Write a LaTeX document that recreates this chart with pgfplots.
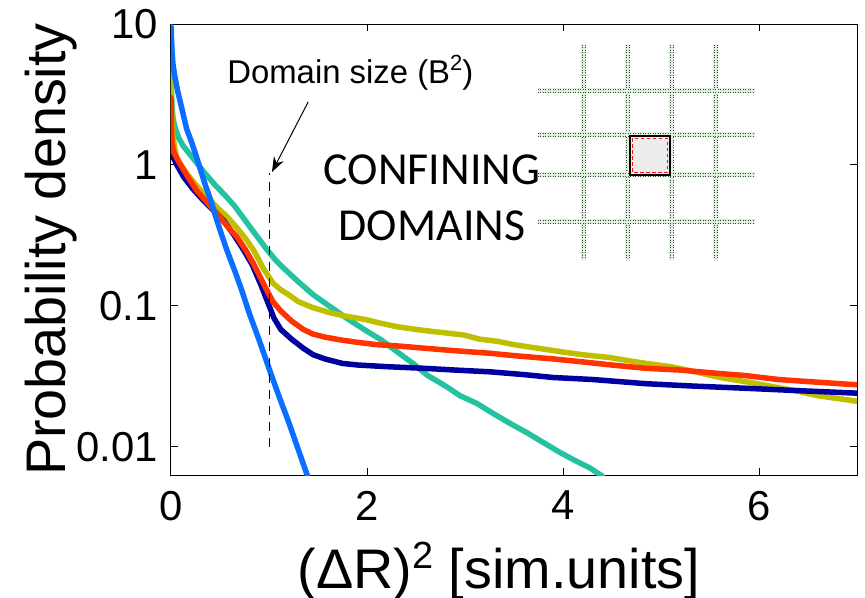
\documentclass[border=0pt]{standalone}
\usepackage{fontspec}
\setmainfont{Liberation Sans}
\newfontfamily\calibri{Carlito}
\usepackage{pgfplots}
\pgfplotsset{compat=1.18}
\usetikzlibrary{arrows.meta}

\definecolor{cLight}{RGB}{10,110,255}
\definecolor{cTeal}{RGB}{35,195,160}
\definecolor{cOlive}{RGB}{192,190,0}
\definecolor{cRed}{RGB}{255,50,0}
\definecolor{cNavy}{RGB}{0,0,160}
\definecolor{gridgreen}{RGB}{45,75,45}
\definecolor{gridhalo}{RGB}{225,240,222}

\begin{document}
\begin{tikzpicture}
\begin{axis}[
  at={(0,0)}, anchor=south west,
  scale only axis, width=686bp, height=451bp,
  xmin=0, xmax=7, ymode=log, ymin=0.0063, ymax=10,
  xtick={0,2,4,6}, xticklabels={0,2,4,6},
  ytick={0.01,0.1,1,10}, yticklabels={0.01,0.1,1,10},
  yminorticks=false,
  tick align=inside, major tick length=7bp,
  axis line style={black, line width=1bp},
  every tick/.style={black, line width=1bp},
  /pgf/number format/assume math mode=true,
  ticklabel style={font=\fontsize{42}{42}\selectfont, inner sep=0pt},
  xticklabel style={yshift=-16bp},
  yticklabel style={xshift=-13bp},
  xlabel={(ΔR)\raisebox{20bp}{\fontsize{38}{38}\selectfont 2} [sim.units]},
  xlabel style={font=\fontsize{56}{56}\selectfont, at={(axis description cs:0.478,-0.2506)}, anchor=base},
  ylabel={Probability density},
  ylabel style={font=\fontsize{56}{56}\selectfont, at={(axis description cs:-0.1545,0.5)}, anchor=base},
  every axis plot/.append style={line width=5.5bp, line join=round, line cap=round},
]

% (Delta R)^2 distributions for the different domain sizes
\addplot[cTeal] coordinates {
(0,5.6) (0.002,4.5) (0.005,3.3) (0.01,2.6) (0.02,2.15) (0.04,1.85) (0.08,1.55)
(0.12,1.38) (0.16,1.27) (0.25,1.06) (0.33,0.90) (0.45,0.72) (0.55,0.61)
(0.65,0.51) (0.75,0.41) (0.85,0.33) (0.98,0.25) (1.07,0.21) (1.15,0.185)
(1.30,0.148) (1.45,0.12) (1.63,0.098) (1.80,0.081) (1.97,0.068) (2.15,0.057)
(2.31,0.047) (2.47,0.039) (2.62,0.032) (2.80,0.027) (2.95,0.023) (3.12,0.0203)
(3.30,0.017) (3.47,0.0145) (3.63,0.0126) (3.80,0.0107) (3.97,0.0091)
(4.12,0.0080) (4.27,0.0071) (4.40,0.0062)
};

\addplot[cOlive] coordinates {
(0,4.7) (0.003,3.5) (0.006,2.6) (0.01,2.0) (0.02,1.6) (0.04,1.3) (0.06,1.12)
(0.1,1.0) (0.17,0.85) (0.27,0.70) (0.37,0.59) (0.47,0.50) (0.57,0.43)
(0.67,0.36) (0.76,0.30) (0.84,0.25) (0.90,0.21) (0.94,0.185) (1.0,0.16)
(1.04,0.145) (1.12,0.13) (1.2,0.12) (1.30,0.107) (1.45,0.097) (1.63,0.089)
(1.8,0.084) (1.98,0.080) (2.15,0.075) (2.31,0.071) (2.5,0.068) (2.65,0.066)
(2.82,0.064) (2.99,0.062) (3.15,0.058) (3.33,0.056) (3.5,0.053) (3.66,0.051)
(3.83,0.049) (4.0,0.047) (4.2,0.045) (4.47,0.043) (4.65,0.041) (4.85,0.039)
(5.1,0.037) (5.35,0.034) (5.6,0.031) (5.86,0.029) (6.1,0.027) (6.37,0.025)
(6.6,0.023) (6.8,0.022) (7.0,0.021)
};

\addplot[cNavy] coordinates {
(0,1.35) (0.005,1.25) (0.02,1.14) (0.06,1.0) (0.13,0.82) (0.22,0.68)
(0.33,0.56) (0.44,0.47) (0.54,0.40) (0.64,0.32) (0.74,0.25) (0.83,0.195)
(0.91,0.145) (0.99,0.105) (1.05,0.082) (1.12,0.068) (1.23,0.058) (1.35,0.050)
(1.45,0.045) (1.57,0.042) (1.75,0.039) (1.91,0.038) (2.2,0.037) (2.59,0.036)
(2.9,0.035) (3.26,0.034) (3.6,0.0325) (3.9,0.031) (4.3,0.030) (4.85,0.028)
(5.3,0.027) (5.86,0.026) (6.4,0.025) (7.0,0.024)
};

\addplot[cRed] coordinates {
(0,3.0) (0.003,2.2) (0.006,1.7) (0.01,1.45) (0.02,1.3) (0.03,1.22) (0.08,1.05)
(0.15,0.87) (0.26,0.66) (0.37,0.54) (0.47,0.45) (0.57,0.37) (0.67,0.31)
(0.76,0.25) (0.84,0.20) (0.91,0.16) (0.98,0.128) (1.04,0.107) (1.12,0.092)
(1.23,0.078) (1.35,0.068) (1.45,0.063) (1.57,0.060) (1.75,0.057) (1.91,0.055)
(2.1,0.053) (2.3,0.052) (2.59,0.050) (2.9,0.048) (3.26,0.046) (3.55,0.044)
(3.90,0.042) (4.2,0.040) (4.5,0.038) (4.85,0.036) (5.2,0.035) (5.5,0.0335)
(5.86,0.032) (6.2,0.030) (6.5,0.029) (7.0,0.0275)
};

\addplot[cLight] coordinates {
(0,9.6) (0.005,8) (0.01,6.5) (0.02,5.2) (0.04,4.2) (0.07,3.3) (0.10,2.7)
(0.13,2.2) (0.16,1.8) (0.21,1.45) (0.25,1.2) (0.30,0.93) (0.35,0.72)
(0.41,0.55) (0.46,0.42) (0.51,0.33) (0.56,0.26) (0.61,0.21) (0.66,0.17)
(0.72,0.13) (0.80,0.088) (0.90,0.057) (1.00,0.036) (1.10,0.023) (1.20,0.015)
(1.30,0.0095) (1.40,0.006)
};

% domain size marker
\draw[black, line width=1bp, dash pattern=on 9bp off 7bp] (axis cs:1,0.01) -- (axis cs:1,0.88);
\draw[black, line width=1bp, -{Stealth[length=15bp, width=11bp]}] (axis cs:1.40,2.8) -- (axis cs:1.03,0.89);
\node[anchor=base, inner sep=0pt, font=\fontsize{33}{33}\selectfont] at (axis cs:1.83,3.8)
  {Domain size (B\raisebox{13bp}{\fontsize{22}{22}\selectfont 2})};
\end{axis}

% sketch of the confining grid, in picture units
\begin{scope}[x=1bp, y=-1bp, xshift=-171bp, yshift=475bp]
  \node[anchor=base, inner sep=0pt, font=\calibri\fontsize{46}{46}\selectfont] at (432,185) {CONFINING};
  \node[anchor=base, inner sep=0pt, font=\calibri\fontsize{46}{46}\selectfont] at (432,241) {DOMAINS};
  \foreach \gx in {584,628,672,716} {
    \draw[gridhalo, line width=5bp] (\gx,45) -- (\gx,260);
    \draw[gridgreen, line width=0.7bp, dash pattern=on 1bp off 1.5bp] (\gx-1.5,45) -- (\gx-1.5,260);
    \draw[gridgreen, line width=0.7bp, dash pattern=on 1bp off 1.5bp] (\gx+1.5,45) -- (\gx+1.5,260);
  }
  \foreach \gy in {91,135,175,222} {
    \draw[gridhalo, line width=5bp] (538,\gy) -- (755,\gy);
    \draw[gridgreen, line width=0.7bp, dash pattern=on 1bp off 1.5bp] (538,\gy-1.5) -- (755,\gy-1.5);
    \draw[gridgreen, line width=0.7bp, dash pattern=on 1bp off 1.5bp] (538,\gy+1.5) -- (755,\gy+1.5);
  }
  \fill[gray!15] (630,136) rectangle (670,175);
  \draw[black, line width=1.6bp] (630,136) rectangle (670,175);
  \draw[red!90!orange, line width=1.6bp, dash pattern=on 3.5bp off 2.5bp] (632.5,138.5) rectangle (667.5,172.5);
\end{scope}

\pgfresetboundingbox
\path[use as bounding box] (-171bp,-123bp) rectangle (694bp,475bp);
\end{tikzpicture}
\end{document}
